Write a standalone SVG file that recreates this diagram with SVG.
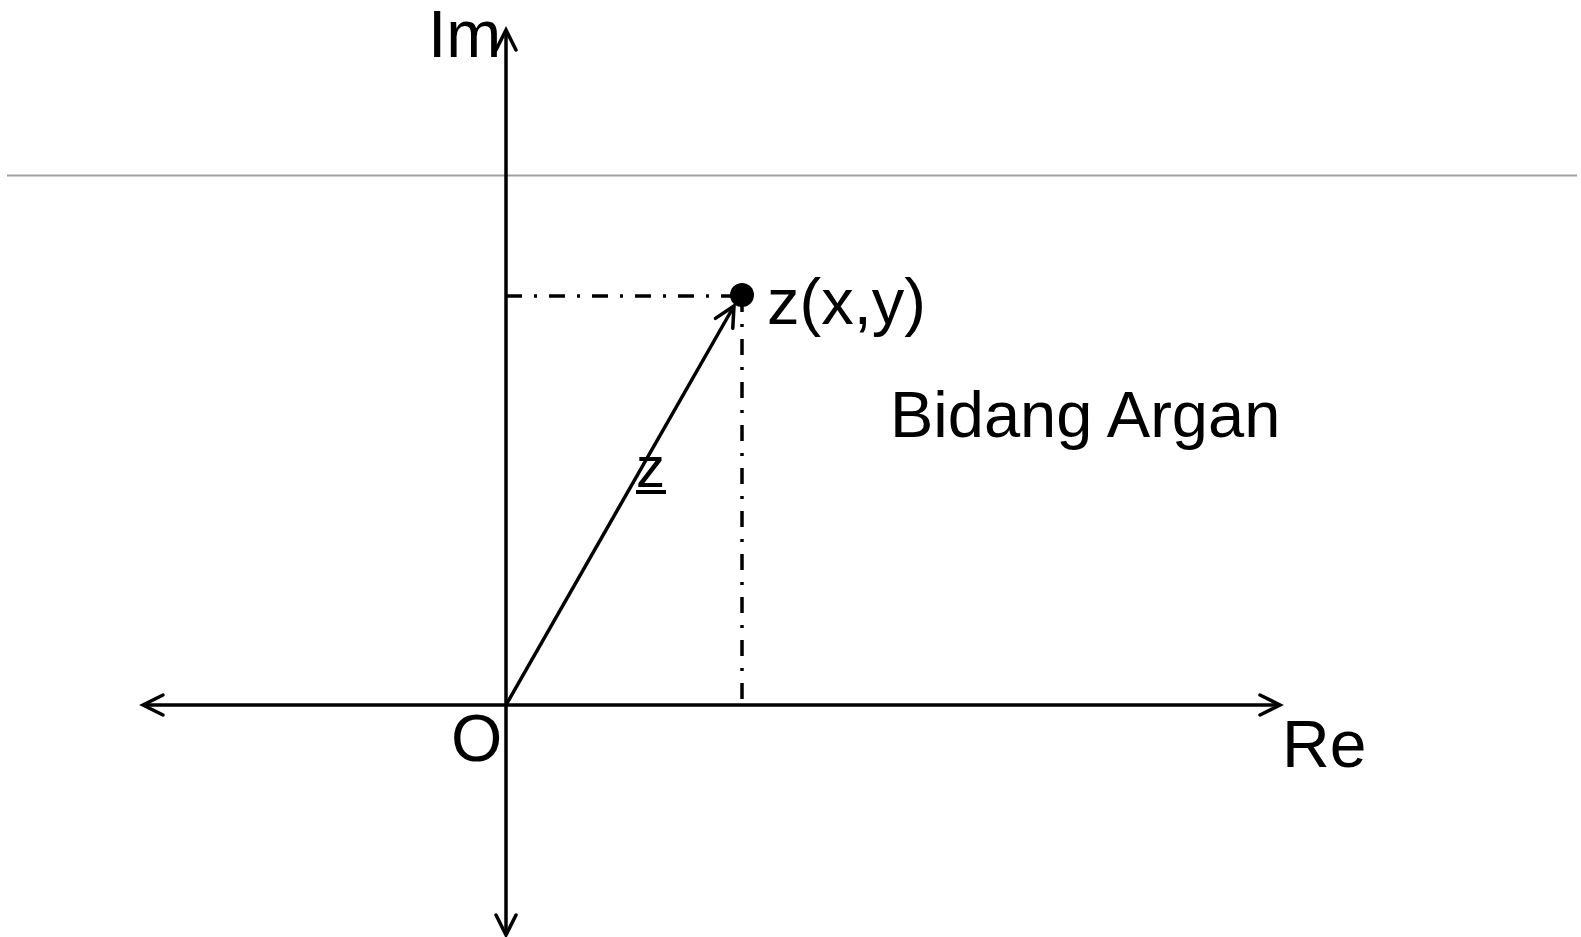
<svg xmlns="http://www.w3.org/2000/svg" width="1581" height="937" viewBox="0 0 1581 937">
<style>
.ax{stroke:#000;stroke-width:3.5;fill:none}
.dd{stroke:#000;stroke-width:3.5;fill:none;stroke-dasharray:16 12 3 12}
.t{font-family:"Liberation Sans",Arial,sans-serif;fill:#000}
</style>
<defs>
<marker id="ah" markerUnits="userSpaceOnUse" markerWidth="30" markerHeight="30" viewBox="-25 -15 30 30" refX="0" refY="0" orient="auto">
<path d="M-20,-10 L0,0 L-20,10" stroke="#000" stroke-width="3.5" fill="none" stroke-linecap="round" stroke-linejoin="miter"/>
</marker>
</defs>
<rect width="1581" height="937" fill="#fff"/>
<line x1="7" y1="175.5" x2="1577" y2="175.5" stroke="#a0a0a0" stroke-width="2"/>
<g id="connectors">
<line class="ax" x1="506" y1="705" x2="1280" y2="705" marker-end="url(#ah)"/>
<line class="ax" x1="506" y1="705" x2="143" y2="705" marker-end="url(#ah)"/>
<line class="ax" x1="506" y1="705" x2="506" y2="30" marker-end="url(#ah)"/>
<line class="ax" x1="506" y1="705" x2="506" y2="935" marker-end="url(#ah)"/>
<line class="ax" x1="506" y1="705" x2="734" y2="306" marker-end="url(#ah)"/>
<line class="dd" x1="506" y1="296" x2="742" y2="296"/>
<line class="dd" x1="742" y1="296" x2="742" y2="705"/>
</g>
<g id="point">
<circle cx="742" cy="295" r="12" fill="#000"/>
<text class="t" x="767" y="324" font-size="65">z(x,y)</text>
</g>
<g id="label-z">
<text class="t" x="636" y="487" font-size="58">z</text>
<line x1="636" y1="492" x2="666" y2="492" stroke="#000" stroke-width="4"/>
</g>
<g id="label-plane"><text class="t" x="890" y="437" font-size="65">Bidang Argan</text></g>
<g id="label-im"><text class="t" x="428" y="57" font-size="66">Im</text></g>
<g id="label-re"><text class="t" x="1282" y="767" font-size="66">Re</text></g>
<g id="label-o"><text class="t" x="451" y="761" font-size="66">O</text></g>
</svg>
